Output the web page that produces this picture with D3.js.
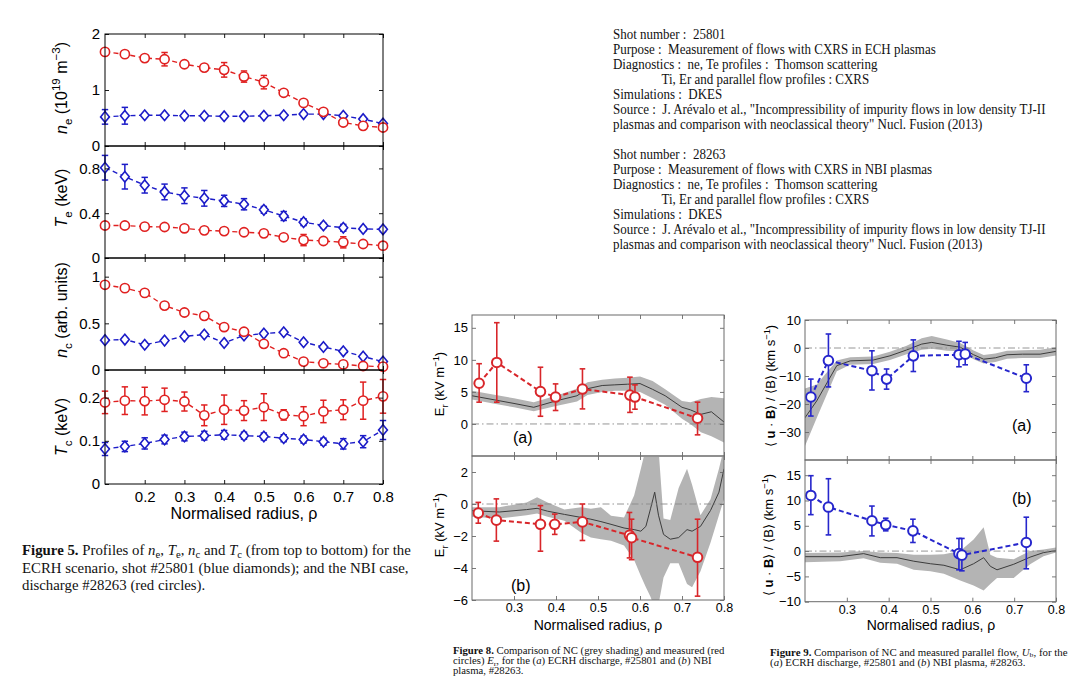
<!DOCTYPE html>
<html><head><meta charset="utf-8">
<script src="https://cdn.jsdelivr.net/npm/d3@7"></script>
<style>
body{margin:0;background:#fff;}
svg{display:block;}
</style></head><body>
<svg id="c" width="1074" height="700"></svg>
<script>
// ---------------- DATA ----------------
// Figure 5 : profiles vs normalised radius
const rho5 = [0.1,0.15,0.2,0.25,0.3,0.35,0.4,0.45,0.5,0.55,0.6,0.65,0.7,0.75,0.8];
const rho5Ticks = [0.2,0.3,0.4,0.5,0.6,0.7,0.8];
const neNBI    = [1.68,1.64,1.57,1.55,1.46,1.40,1.36,1.24,1.14,0.95,0.77,0.61,0.42,0.36,0.33];
const neNBIErr = [0,0,0,0.12,0,0,0.13,0.10,0.12,0,0,0,0,0,0];
const neECH    = [0.52,0.54,0.55,0.55,0.54,0.54,0.53,0.53,0.54,0.55,0.57,0.57,0.54,0.48,0.40];
const neECHErr = [0.13,0.15,0,0,0,0,0,0,0,0,0,0,0,0,0];
const teECH    = [0.806,0.726,0.65,0.59,0.556,0.533,0.51,0.48,0.43,0.375,0.32,0.29,0.27,0.26,0.256];
const teECHErr = [0.11,0.11,0.07,0.07,0.07,0.07,0.05,0.05,0.03,0.04,0.03,0.02,0.03,0.02,0.02];
const teNBI    = [0.29,0.29,0.28,0.277,0.265,0.247,0.24,0.23,0.22,0.185,0.16,0.152,0.14,0.125,0.11];
const teNBIErr = [0,0,0,0.02,0,0,0,0,0.02,0,0.05,0,0.05,0,0];
const ncNBI    = [0.913,0.877,0.826,0.69,0.616,0.58,0.46,0.41,0.28,0.18,0.09,0.072,0.06,0.043,0.036];
const ncECH    = [0.32,0.326,0.27,0.315,0.36,0.38,0.29,0.37,0.39,0.405,0.297,0.247,0.2,0.145,0.09];
const tcNBI    = [0.189,0.193,0.192,0.195,0.191,0.159,0.172,0.170,0.178,0.160,0.157,0.168,0.172,0.193,0.203];
const tcNBIErr = [0.026,0.032,0.032,0.027,0.022,0.024,0.034,0.023,0.031,0.012,0.022,0.026,0.023,0.043,0.039];
const tcECH    = [0.081,0.087,0.094,0.103,0.110,0.112,0.114,0.112,0.110,0.106,0.103,0.098,0.093,0.098,0.125];
const tcECHErr = [0.015,0.012,0.013,0.010,0.010,0.010,0.010,0.008,0.008,0.008,0.008,0.008,0.012,0.014,0.022];

// Figure 8 : radial electric field, measured (red circles) and NC band
const rho8a = [0.217,0.259,0.363,0.399,0.463,0.576,0.588,0.737];
const er8a   = [6.35,9.6,5.05,4.2,5.45,4.5,4.2,0.9];
const er8aHi = [9.4,15.8,8.85,6.25,8.6,7.3,6.1,3.4];
const er8aLo = [3.4,3.4,1.2,2.1,2.35,1.8,2.3,-1.7];
const nc8aRho = [0.2,0.25,0.3,0.347,0.4,0.45,0.475,0.51,0.54,0.57,0.6,0.63,0.66,0.7,0.72,0.745,0.77,0.8];
const nc8aMid = [4.4,3.8,3.2,2.6,3.6,4.4,5.5,6.0,6.1,6.2,6.3,5.4,4.4,2.6,2.2,1.5,1.9,0.3];
const nc8aUp  = [5.2,4.6,4.0,3.4,4.4,5.5,6.5,6.9,7.1,7.2,7.4,6.7,5.4,3.6,3.4,3.9,4.2,4.0];
const nc8aLow = [3.8,3.2,2.6,2.0,2.8,3.5,4.5,5.0,5.2,5.2,5.0,4.0,3.0,0.8,0.0,-1.3,-1.9,-2.9];

const rho8b = [0.215,0.258,0.363,0.397,0.463,0.575,0.58,0.737];
const er8b   = [-0.57,-1.01,-1.27,-1.27,-1.12,-1.96,-2.11,-3.33];
const er8bHi = [0.1,0.32,-0.1,-0.63,0.0,-0.53,-0.95,-0.95];
const er8bLo = [-1.2,-2.32,-2.95,-1.9,-2.28,-3.37,-3.48,-5.76];
const nc8bRho = [0.2,0.265,0.33,0.355,0.38,0.42,0.46,0.483,0.507,0.531,0.562,0.586,0.602,0.614,0.625,0.635,0.644,0.656,0.672,0.692,0.712,0.724,0.744,0.768,0.788,0.8];
const nc8bMid = [-0.42,-0.5,-0.35,-0.27,-0.45,-0.65,-0.84,-0.95,-1.1,-1.27,-1.5,-1.6,-1.7,-1.4,-0.3,0.74,-0.7,-1.9,-2.2,-2.1,-1.6,-1.7,-1.4,-0.4,0.74,2.2];
const nc8bUp  = [-0.2,-0.2,0.1,0.42,0.1,-0.35,-0.2,-0.3,-0.2,-0.74,-0.84,0.53,2.2,3.5,3.5,3.5,3.5,-0.9,-1.0,1.0,2.2,1.2,-0.7,0.3,2.2,3.5];
const nc8bLow = [-0.8,-0.9,-0.7,-0.6,-0.8,-1.05,-1.8,-2.1,-2.2,-2.3,-2.6,-3.5,-4.5,-5.2,-5.8,-6.5,-6.3,-4.6,-3.7,-3.7,-5.0,-5.2,-4.2,-2.4,-0.7,0.3];

// Figure 9 : parallel flow, measured (blue circles) and NC band
const rho9a = [0.214,0.256,0.36,0.395,0.459,0.568,0.583,0.729];
const ub9a   = [-17.5,-4.5,-8.1,-11.1,-2.8,-2.4,-2.2,-10.8];
const ub9aHi = [-11.1,5,-1,-7.5,2.9,2.4,2.0,-6];
const ub9aLo = [-24.3,-13.9,-15,-14.7,-8.4,-6.7,-6.0,-15.6];
const nc9aRho = [0.2,0.228,0.276,0.308,0.363,0.403,0.443,0.479,0.503,0.539,0.571,0.603,0.627,0.655,0.683,0.72,0.762,0.8];
const nc9aMid = [-24.9,-18.9,-6.3,-4.6,-4.3,-2.8,-0.7,1.4,2.0,1.0,0.3,-2.4,-4.0,-3.5,-2.4,-2.2,-2.2,-1.2];
const nc9aUp  = [-14.5,-13,-4.5,-3.3,-3,-1.3,0.8,3.5,4.3,3,1.8,-0.9,-2.5,-2,-1,-0.8,-0.6,0.3];
const nc9aLow = [-35,-25,-8.3,-6,-5.7,-4.3,-2.2,-0.6,-0.3,-1,-1.2,-4,-5.5,-5,-3.8,-3.6,-3.6,-2.7];

const rho9b = [0.214,0.256,0.36,0.393,0.458,0.568,0.575,0.729];
const ub9b   = [11,8.7,6.0,5.2,4.0,-0.5,-0.8,1.7];
const ub9bHi = [14.9,14.3,8.9,6.5,6.3,2.5,2.5,6.7];
const ub9bLo = [7.2,3.2,3.0,4.0,1.7,-3.7,-3.9,-3.5];
const nc9bRho = [0.2,0.284,0.34,0.38,0.42,0.46,0.5,0.532,0.571,0.603,0.627,0.643,0.659,0.699,0.738,0.77,0.8];
const nc9bMid = [-1.1,-1.1,-0.5,-1.3,-1.3,-2.0,-2.5,-2.8,-3.7,-2.5,-1.3,-3.0,-3.7,-2.6,-1.2,-0.3,0.1];
const nc9bUp  = [-0.4,-0.3,0.0,-0.3,-0.4,-0.7,-0.7,-0.6,0.0,2.3,4.7,-0.7,-1.3,-1.6,0.0,0.3,0.7];
const nc9bLow = [-2.2,-2.0,-1.4,-2.3,-2.5,-3.7,-4.0,-4.5,-5.8,-6.8,-7.8,-6.5,-5.3,-5.3,-2.6,-1.0,-0.3];
const rho89Ticks = [0.3,0.4,0.5,0.6,0.7,0.8];

// ---------------- DRAWING ----------------
const SANS = '"Liberation Sans", Arial, Helvetica, sans-serif';
const SERIF = '"Liberation Serif", "Times New Roman", serif';
const RED5 = "#e02020", BLUE5 = "#1c1cc8";
const RED8 = "#d8262a", BLUE9 = "#2626cc";
const svg = d3.select("#c");
let clipN = 0;
const fmtNum = d => d < 0 ? "\u2212" + String(-d) : String(d);

function rich(text, parts, fs, subK) {
  const k = subK || 0.3;
  let shift = 0;
  parts.forEach(p => {
    const ts = text.append("tspan").text(p.t);
    const target = p.sub ? fs * k : p.sup ? -fs * 0.42 : 0;
    if (Math.abs(target - shift) > 1e-6) { ts.attr("dy", target - shift); shift = target; }
    if (p.sub || p.sup) ts.attr("font-size", fs * 0.72);
    if (p.it) ts.attr("font-style", "italic");
    if (p.b) ts.attr("font-weight", "bold");
  });
  return text;
}

function panel(o) {
  const y = d3.scaleLinear().domain(o.domain).range([o.yr[1], o.yr[0]]);
  const [xl, xr] = o.x.range();
  const id = "clip" + (clipN++);
  svg.append("clipPath").attr("id", id).append("rect")
    .attr("x", xl).attr("y", o.yr[0]).attr("width", xr - xl).attr("height", o.yr[1] - o.yr[0]);
  const g = svg.append("g");
  const clipped = g.append("g").attr("clip-path", `url(#${id})`);
  const free = g.append("g");
  const axes = svg.append("g").attr("font-family", SANS);
  const style = (fs) => sel => {
    sel.select(".domain").remove();
    sel.selectAll(".tick line").attr("stroke", o.frame).attr("stroke-width", 0.9);
    sel.selectAll(".tick text").attr("fill", "#000").attr("font-size", fs).attr("font-family", SANS);
  };
  axes.append("g").attr("transform", `translate(${xl},0)`)
    .call(d3.axisLeft(y).tickValues(o.yTicks).tickSize(-o.tick).tickPadding(o.ypad).tickFormat(fmtNum)).call(style(o.fs));
  axes.append("g").attr("transform", `translate(${xr},0)`)
    .call(d3.axisRight(y).tickValues(o.yTicks).tickSize(-o.tick).tickFormat("")).call(style(o.fs));
  axes.append("g").attr("transform", `translate(0,${o.yr[1]})`)
    .call(d3.axisBottom(o.x).tickValues(o.xTicks).tickSize(-o.tick).tickPadding(o.xpad)
      .tickFormat(o.xLabels ? d3.format(".1f") : "")).call(style(o.xfs || o.fs));
  axes.append("g").attr("transform", `translate(0,${o.yr[0]})`)
    .call(d3.axisTop(o.x).tickValues(o.xTicks).tickSize(-o.tick).tickFormat("")).call(style(o.fs));
  axes.append("rect").attr("x", xl).attr("y", o.yr[0]).attr("width", xr - xl).attr("height", o.yr[1] - o.yr[0])
    .attr("fill", "none").attr("stroke", o.frame).attr("stroke-width", o.fw || 1);
  return { y, clipped, free, axes };
}

// ---------- Figure 5 ----------
const x5 = d3.scaleLinear().domain([0.1, 0.8]).range([105, 383]);
function series5(p, vals, errs, color, shape) {
  const pts = rho5.map((r, i) => [x5(r), p.y(vals[i])]);
  p.free.append("path").attr("d", d3.line()(pts)).attr("fill", "none")
    .attr("stroke", color).attr("stroke-width", 1.4).attr("stroke-dasharray", "5,3.5");
  if (errs) errs.forEach((e, i) => {
    if (!e) return;
    const xx = x5(rho5[i]), y1 = p.y(vals[i] + e), y2 = p.y(vals[i] - e);
    const eg = p.free.append("g").attr("stroke", color).attr("stroke-width", 1.5);
    eg.append("line").attr("x1", xx).attr("x2", xx).attr("y1", y1).attr("y2", y2);
    eg.append("line").attr("x1", xx - 3.2).attr("x2", xx + 3.2).attr("y1", y1).attr("y2", y1);
    eg.append("line").attr("x1", xx - 3.2).attr("x2", xx + 3.2).attr("y1", y2).attr("y2", y2);
  });
  pts.forEach(([px, py]) => {
    if (shape === "circle") {
      p.free.append("circle").attr("cx", px).attr("cy", py).attr("r", 4.6)
        .attr("fill", "#fff").attr("stroke", color).attr("stroke-width", 1.6);
    } else {
      p.free.append("path").attr("d", `M${px},${py - 5.3}L${px + 4.4},${py}L${px},${py + 5.3}L${px - 4.4},${py}Z`)
        .attr("fill", "#fff").attr("stroke", color).attr("stroke-width", 1.6);
    }
  });
}
const p5base = { x: x5, xTicks: rho5Ticks, frame: "#000", tick: 4, fs: 15, ypad: 5, xpad: 7 };
const pNe = panel({ ...p5base, yr: [34, 146], domain: [0, 2], yTicks: [0, 1, 2], xLabels: false });
series5(pNe, neECH, neECHErr, BLUE5, "diamond");
series5(pNe, neNBI, neNBIErr, RED5, "circle");
const pTe = panel({ ...p5base, yr: [146, 258], domain: [0, 1], yTicks: [0, 0.4, 0.8], xLabels: false });
series5(pTe, teNBI, teNBIErr, RED5, "circle");
series5(pTe, teECH, teECHErr, BLUE5, "diamond");
const pNc = panel({ ...p5base, yr: [258, 370], domain: [0, 1.2], yTicks: [0, 0.5, 1], xLabels: false });
series5(pNc, ncECH, null, BLUE5, "diamond");
series5(pNc, ncNBI, null, RED5, "circle");
const pTc = panel({ ...p5base, yr: [370, 484], domain: [0, 0.264], yTicks: [0, 0.1, 0.2], xLabels: true });
series5(pTc, tcNBI, tcNBIErr, RED5, "circle");
series5(pTc, tcECH, tcECHErr, BLUE5, "diamond");

function yLabel(x, y, parts, fs) {
  const t = svg.append("text").attr("transform", `translate(${x},${y}) rotate(-90)`)
    .attr("text-anchor", "middle").attr("font-family", SANS).attr("font-size", fs).attr("fill", "#000");
  rich(t, parts, fs);
}
yLabel(67, 88, [{ t: "n", it: 1 }, { t: "e", sub: 1 }, { t: " (10" }, { t: "19", sup: 1 }, { t: " m" }, { t: "\u22123", sup: 1 }, { t: ")" }], 16);
yLabel(67, 198, [{ t: "T", it: 1 }, { t: "e", sub: 1 }, { t: " (keV)" }], 16);
yLabel(67, 310, [{ t: "n", it: 1 }, { t: "c", sub: 1 }, { t: " (arb. units)" }], 16);
yLabel(67, 427, [{ t: "T", it: 1 }, { t: "c", sub: 1 }, { t: " (keV)" }], 16);
svg.append("text").attr("x", (105 + 383) / 2).attr("y", 519).attr("text-anchor", "middle")
  .attr("font-family", SANS).attr("font-size", 16).text("Normalised radius, \u03c1");

// ---------- Figures 8 & 9 ----------
const x8 = d3.scaleLinear().domain([0.2, 0.8]).range([472, 724]);
const x9 = d3.scaleLinear().domain([0.2, 0.8]).range([805, 1056]);
const p89base = { xTicks: rho89Ticks, frame: "#6a6a6a", tick: 4, fs: 13, xfs: 12.5, ypad: 4, xpad: 3 };

function ncBand(p, x, rr, mid, up, low) {
  const area = d3.area().x((d, i) => x(rr[i])).y0((d, i) => p.y(low[i])).y1((d, i) => p.y(up[i]));
  p.clipped.append("path").attr("d", area(rr)).attr("fill", "#b4b4b4");
  const line = d3.line().x((d, i) => x(rr[i])).y((d, i) => p.y(mid[i]));
  p.clipped.append("path").attr("d", line(rr)).attr("fill", "none").attr("stroke", "#3c3c3c").attr("stroke-width", 1);
}
function zeroLine(p, x) {
  p.clipped.append("line").attr("x1", x.range()[0]).attr("x2", x.range()[1]).attr("y1", p.y(0)).attr("y2", p.y(0))
    .attr("stroke", "#8a8a8a").attr("stroke-width", 0.9).attr("stroke-dasharray", "7,3,1.5,3");
}
function measured(p, x, rr, v, hi, lo, color) {
  p.free.append("path").attr("d", d3.line()(rr.map((r, i) => [x(r), p.y(v[i])])))
    .attr("fill", "none").attr("stroke", color).attr("stroke-width", 2).attr("stroke-dasharray", "5,3");
  rr.forEach((r, i) => {
    const xx = x(r), a = p.y(hi[i]), b = p.y(lo[i]);
    const eg = p.free.append("g").attr("stroke", color).attr("stroke-width", 1.6);
    eg.append("line").attr("x1", xx).attr("x2", xx).attr("y1", a).attr("y2", b);
    eg.append("line").attr("x1", xx - 2.8).attr("x2", xx + 2.8).attr("y1", a).attr("y2", a);
    eg.append("line").attr("x1", xx - 2.8).attr("x2", xx + 2.8).attr("y1", b).attr("y2", b);
  });
  rr.forEach((r, i) => {
    p.free.append("circle").attr("cx", x(r)).attr("cy", p.y(v[i])).attr("r", 4.8)
      .attr("fill", "#fff").attr("stroke", color).attr("stroke-width", 2);
  });
}
function tag(x, y, s) {
  svg.append("text").attr("x", x).attr("y", y).attr("font-family", SANS).attr("font-size", 16).text(s);
}

const p8a = panel({ ...p89base, x: x8, yr: [315, 456], domain: [-5, 17], yTicks: [0, 5, 10, 15], xLabels: false });
ncBand(p8a, x8, nc8aRho, nc8aMid, nc8aUp, nc8aLow); zeroLine(p8a, x8);
measured(p8a, x8, rho8a, er8a, er8aHi, er8aLo, RED8);
tag(513, 443, "(a)");
const p8b = panel({ ...p89base, x: x8, yr: [456, 600], domain: [-6, 3], yTicks: [-6, -4, -2, 0, 2], xLabels: true });
ncBand(p8b, x8, nc8bRho, nc8bMid, nc8bUp, nc8bLow); zeroLine(p8b, x8);
measured(p8b, x8, rho8b, er8b, er8bHi, er8bLo, RED8);
tag(511, 591, "(b)");
const erParts = [{ t: "E" }, { t: "r", sub: 1 }, { t: " (kV m" }, { t: "\u22121", sup: 1 }, { t: ")" }];
yLabel(444, 384, erParts, 13);
yLabel(444, 525, erParts, 13);
svg.append("text").attr("x", 598).attr("y", 630).attr("text-anchor", "middle")
  .attr("font-family", SANS).attr("font-size", 14).text("Normalised radius, \u03c1");

const p9a = panel({ ...p89base, x: x9, yr: [320, 460], domain: [-40, 10], yTicks: [-30, -20, -10, 0, 10], xLabels: false });
ncBand(p9a, x9, nc9aRho, nc9aMid, nc9aUp, nc9aLow); zeroLine(p9a, x9);
measured(p9a, x9, rho9a, ub9a, ub9aHi, ub9aLo, BLUE9);
tag(1012, 431, "(a)");
const p9b = panel({ ...p89base, x: x9, yr: [460, 601.7], domain: [-10, 18], yTicks: [-10, -5, 0, 5, 10, 15], xLabels: true });
ncBand(p9b, x9, nc9bRho, nc9bMid, nc9bUp, nc9bLow); zeroLine(p9b, x9);
measured(p9b, x9, rho9b, ub9b, ub9bHi, ub9bLo, BLUE9);
tag(1012, 504, "(b)");
const ubParts = [{ t: "\u27e8 " }, { t: "u", b: 1 }, { t: " \u00b7 " }, { t: "B", b: 1 }, { t: "\u27e9 / \u27e8B\u27e9 (km s" }, { t: "\u22121", sup: 1 }, { t: ")" }];
yLabel(775, 386, ubParts, 13);
yLabel(773, 535, ubParts, 13);
svg.append("text").attr("x", 931).attr("y", 630).attr("text-anchor", "middle")
  .attr("font-family", SANS).attr("font-size", 14).text("Normalised radius, \u03c1");

// ---------- Text blocks ----------
function block(x0, lines, fs, refIdx, targetW, indentPx, subK) {
  const g = svg.append("g").attr("font-family", SERIF).attr("font-size", fs).attr("fill", "#111");
  const texts = lines.map(L => {
    const t = g.append("text").attr("x", 0).attr("y", L.y).style("white-space", "pre");
    rich(t, L.parts, fs, subK);
    return t;
  });
  const w = texts[refIdx].node().getComputedTextLength();
  const sx = targetW / w;
  g.attr("transform", `translate(${x0},0) scale(${sx},1)`);
  lines.forEach((L, i) => { if (L.indent) texts[i].attr("x", indentPx / sx); });
}
const shotInfo = (shot, kind, y0) => [
  { y: y0, parts: [{ t: "Shot number :  " + shot }] },
  { y: y0 + 15, parts: [{ t: "Purpose :  Measurement of flows with CXRS in " + kind + " plasmas" }] },
  { y: y0 + 30, parts: [{ t: "Diagnostics :  ne, Te profiles :  Thomson scattering" }] },
  { y: y0 + 45, indent: 1, parts: [{ t: "Ti, Er and parallel flow profiles : CXRS" }] },
  { y: y0 + 60, parts: [{ t: "Simulations :  DKES" }] },
  { y: y0 + 75, parts: [{ t: "Source :  J. Ar\u00e9valo et al., \"Incompressibility of impurity flows in low density TJ-II" }] },
  { y: y0 + 90, parts: [{ t: "plasmas and comparison with neoclassical theory\" Nucl. Fusion (2013)" }] }
];
block(613, [...shotInfo("25801", "ECH", 39), ...shotInfo("28263", "NBI", 159)], 14, 5, 433, 48.5);

block(22, [
  { y: 555, parts: [{ t: "Figure 5.", b: 1 }, { t: " Profiles of " }, { t: "n", it: 1 }, { t: "e", sub: 1 }, { t: ", " }, { t: "T", it: 1 }, { t: "e", sub: 1 }, { t: ", " }, { t: "n", it: 1 }, { t: "c", sub: 1 }, { t: " and " }, { t: "T", it: 1 }, { t: "c", sub: 1 }, { t: " (from top to bottom) for the" }] },
  { y: 573, parts: [{ t: "ECRH scenario, shot #25801 (blue diamonds); and the NBI case," }] },
  { y: 590, parts: [{ t: "discharge #28263 (red circles)." }] }
], 15, 0, 389, 0, 0.2);

block(453, [
  { y: 654.5, parts: [{ t: "Figure 8.", b: 1 }, { t: " Comparison of NC (grey shading) and measured (red" }] },
  { y: 664.3, parts: [{ t: "circles) " }, { t: "E", it: 1 }, { t: "r", sub: 1 }, { t: ", for the (" }, { t: "a", it: 1 }, { t: ") ECRH discharge, #25801 and (" }, { t: "b", it: 1 }, { t: ") NBI" }] },
  { y: 674, parts: [{ t: "plasma, #28263." }] }
], 9.5, 0, 272, 0, 0.15);

block(770, [
  { y: 656, parts: [{ t: "Figure 9.", b: 1 }, { t: " Comparison of NC and measured parallel flow, " }, { t: "U", it: 1 }, { t: "b", sub: 1 }, { t: ", for the" }] },
  { y: 666.5, parts: [{ t: "(" }, { t: "a", it: 1 }, { t: ") ECRH discharge, #25801 and (" }, { t: "b", it: 1 }, { t: ") NBI plasma, #28263." }] }
], 9.5, 0, 298, 0, 0.15);
</script>
</body></html>
